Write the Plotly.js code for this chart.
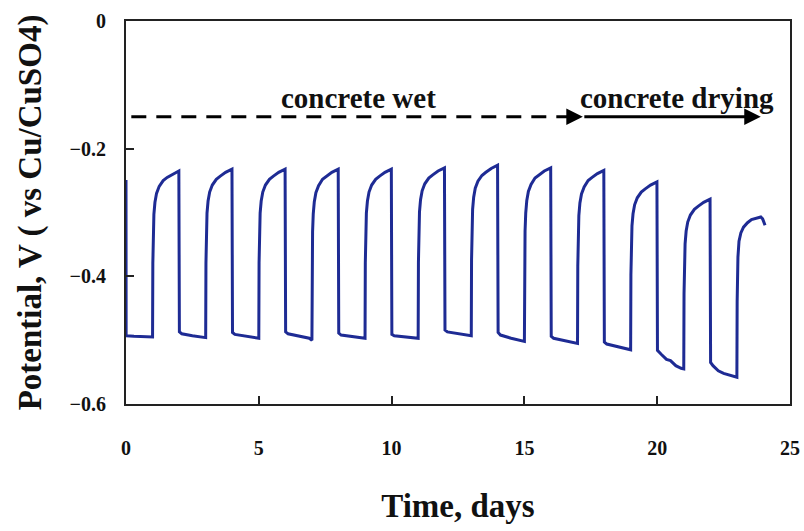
<!DOCTYPE html>
<html>
<head>
<meta charset="utf-8">
<script src="https://cdn.plot.ly/plotly-3.0.1.min.js"></script>
<style>
  html, body { margin: 0; padding: 0; background: #fff; }
  #chart { width: 804px; height: 531px; }
</style>
</head>
<body>
<div id="chart"></div>
<script>
// Time (days) and potential (V vs Cu/CuSO4)
const days = [
  0, 0.005, 0.3, 0.6, 1.0,
  1.01, 1.025, 1.05, 1.09, 1.15, 1.25, 1.40, 1.55, 1.75, 1.99,
  2.01, 2.1, 2.5, 3.0,
  3.01, 3.025, 3.05, 3.09, 3.15, 3.25, 3.40, 3.55, 3.75, 3.99,
  4.01, 4.1, 4.5, 5.0,
  5.01, 5.025, 5.05, 5.09, 5.15, 5.25, 5.40, 5.55, 5.75, 5.99,
  6.01, 6.1, 6.5, 6.9, 7.0,
  7.01, 7.025, 7.05, 7.09, 7.15, 7.25, 7.40, 7.55, 7.75, 7.99,
  8.01, 8.1, 8.5, 9.0,
  9.01, 9.025, 9.05, 9.09, 9.15, 9.25, 9.40, 9.55, 9.75, 9.99,
  10.01, 10.1, 10.5, 11.0,
  11.01, 11.025, 11.05, 11.09, 11.15, 11.25, 11.40, 11.55, 11.75, 11.99,
  12.01, 12.1, 12.5, 13.0,
  13.01, 13.025, 13.05, 13.09, 13.15, 13.25, 13.40, 13.55, 13.75, 13.99,
  14.01, 14.1, 14.5, 15.0,
  15.01, 15.025, 15.05, 15.09, 15.15, 15.25, 15.40, 15.55, 15.75, 15.99,
  16.01, 16.1, 16.5, 17.0,
  17.01, 17.025, 17.05, 17.09, 17.15, 17.25, 17.40, 17.55, 17.75, 17.99,
  18.01, 18.1, 18.5, 19.0,
  19.01, 19.025, 19.05, 19.09, 19.15, 19.25, 19.40, 19.55, 19.75, 19.99,
  20.01, 20.15, 20.35, 20.5, 20.7, 20.9, 21.0,
  21.01, 21.025, 21.05, 21.09, 21.15, 21.25, 21.40, 21.55, 21.75, 21.99,
  22.01, 22.1, 22.3, 22.5, 22.8, 23.0,
  23.01, 23.04, 23.08, 23.15, 23.25, 23.40, 23.55, 23.75, 23.90, 23.97, 24.02, 24.06
];
const potential = [
  -0.249, -0.493, -0.494, -0.494, -0.495,
  -0.380, -0.330, -0.303, -0.284, -0.270, -0.259, -0.250, -0.245, -0.240, -0.235,
  -0.487, -0.490, -0.493, -0.496,
  -0.379, -0.329, -0.301, -0.282, -0.268, -0.257, -0.248, -0.243, -0.237, -0.232,
  -0.488, -0.491, -0.494, -0.497,
  -0.379, -0.329, -0.301, -0.282, -0.268, -0.257, -0.248, -0.243, -0.237, -0.232,
  -0.487, -0.490, -0.494, -0.497, -0.500,
  -0.381, -0.330, -0.302, -0.283, -0.269, -0.258, -0.248, -0.243, -0.237, -0.232,
  -0.489, -0.492, -0.494, -0.497,
  -0.379, -0.329, -0.301, -0.282, -0.268, -0.257, -0.248, -0.243, -0.237, -0.232,
  -0.491, -0.493, -0.495, -0.497,
  -0.378, -0.327, -0.299, -0.280, -0.266, -0.255, -0.246, -0.241, -0.235, -0.230,
  -0.484, -0.487, -0.490, -0.493,
  -0.374, -0.323, -0.295, -0.276, -0.262, -0.251, -0.242, -0.237, -0.231, -0.226,
  -0.488, -0.492, -0.497, -0.502,
  -0.381, -0.329, -0.301, -0.281, -0.267, -0.256, -0.246, -0.241, -0.235, -0.230,
  -0.494, -0.497, -0.501, -0.505,
  -0.384, -0.333, -0.305, -0.285, -0.271, -0.260, -0.250, -0.245, -0.239, -0.234,
  -0.503, -0.506, -0.510, -0.515,
  -0.398, -0.348, -0.321, -0.302, -0.288, -0.277, -0.268, -0.263, -0.257, -0.252,
  -0.516, -0.522, -0.530, -0.532, -0.540, -0.544, -0.545,
  -0.427, -0.376, -0.349, -0.329, -0.315, -0.304, -0.295, -0.290, -0.284, -0.279,
  -0.535, -0.540, -0.548, -0.552, -0.555, -0.558,
  -0.440, -0.370, -0.345, -0.332, -0.323, -0.316, -0.311, -0.308, -0.307, -0.310, -0.318, -0.320
];

const xTicks = [0, 5, 10, 15, 20, 25];
const xTickLabels = ["0", "5", "10", "15", "20", "25"];
const yTicks = [0, -0.2, -0.4, -0.6];
const yTickLabels = ["0", "\u22120.2", "\u22120.4", "\u22120.6"];
const labelWet = "concrete wet";
const labelDrying = "concrete drying";
// arrow extents (days) and level (V)
const wetArrow = [0.2, 17.2];
const dryArrow = [17.2, 23.9];
const arrowLevel = -0.15;

const serif = "Liberation Serif, Times New Roman, serif";
const bold = s => "<b>" + s + "</b>";

const trace = {
  x: days,
  y: potential,
  type: "scatter",
  mode: "lines",
  line: { color: "#1e2b94", width: 3 },
  hoverinfo: "x+y"
};

const axisCommon = {
  showgrid: false,
  zeroline: false,
  showline: true,
  linecolor: "#222",
  linewidth: 2,
  mirror: true,
  ticks: "inside",
  ticklen: 8,
  tickwidth: 2,
  tickcolor: "#222",
  tickfont: { family: serif, size: 20, color: "#111" }
};

const layout = {
  width: 804,
  height: 531,
  margin: { l: 126, r: 14, t: 21, b: 127 },
  paper_bgcolor: "#fff",
  plot_bgcolor: "#fff",
  showlegend: false,
  font: { family: serif, color: "#111" },
  xaxis: Object.assign({}, axisCommon, {
    range: [0, 25],
    tickmode: "array",
    tickvals: xTicks,
    ticktext: xTickLabels.map(bold),
    ticklabelstandoff: 25,
    title: { text: bold("Time, days"), font: { family: serif, size: 33, color: "#111" }, standoff: 36 }
  }),
  yaxis: Object.assign({}, axisCommon, {
    range: [-0.6, 0],
    tickmode: "array",
    tickvals: yTicks,
    ticktext: yTickLabels.map(bold),
    ticklabelstandoff: 14,
    title: { text: bold("Potential, V ( vs Cu/CuSO4)"), font: { family: serif, size: 33, color: "#111" }, standoff: 18 }
  }),
  shapes: [
    {
      type: "line", xref: "x", yref: "y",
      x0: wetArrow[0], x1: wetArrow[1] - 0.35, y0: arrowLevel, y1: arrowLevel,
      line: { color: "#000", width: 3, dash: "15px,10px" }
    }
  ],
  annotations: [
    {
      x: wetArrow[1], y: arrowLevel, ax: wetArrow[1] - 0.4, ay: arrowLevel,
      xref: "x", yref: "y", axref: "x", ayref: "y",
      text: "", showarrow: true, arrowhead: 2, arrowsize: 1.1, arrowwidth: 3, arrowcolor: "#000"
    },
    {
      x: dryArrow[1], y: arrowLevel, ax: dryArrow[0], ay: arrowLevel,
      xref: "x", yref: "y", axref: "x", ayref: "y",
      text: "", showarrow: true, arrowhead: 2, arrowsize: 1.1, arrowwidth: 3, arrowcolor: "#000"
    },
    {
      x: 8.75, y: arrowLevel, xref: "x", yref: "y", yanchor: "bottom", yshift: 1,
      text: bold(labelWet), showarrow: false,
      font: { family: serif, size: 29, color: "#111" }
    },
    {
      x: 20.75, y: arrowLevel, xref: "x", yref: "y", yanchor: "bottom", yshift: 1,
      text: bold(labelDrying), showarrow: false,
      font: { family: serif, size: 29, color: "#111" }
    }
  ]
};

Plotly.newPlot("chart", [trace], layout, { displayModeBar: false, staticPlot: true });
</script>
</body>
</html>
